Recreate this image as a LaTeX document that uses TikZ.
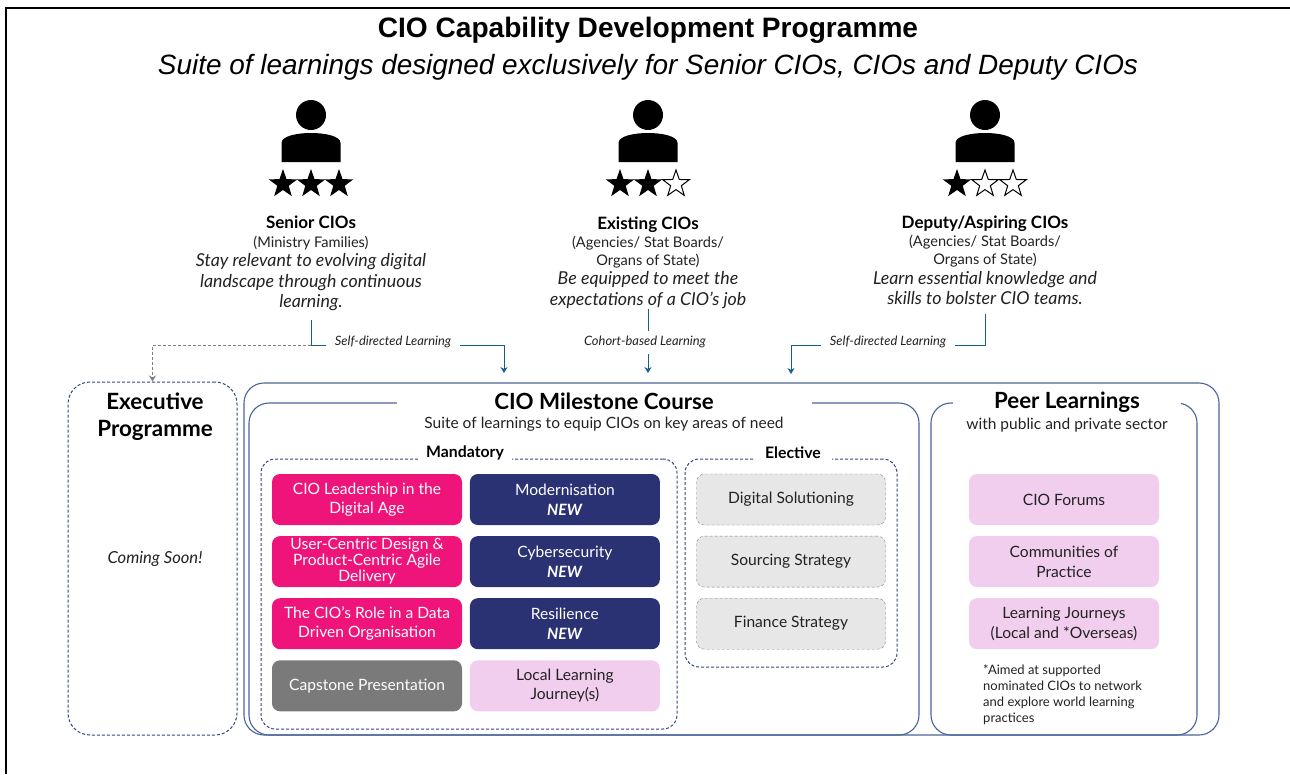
\documentclass[tikz,border=0pt]{standalone}
\usepackage{fontspec}
\setmainfont{Lato}
\newfontfamily\headfont{Liberation Sans}
\usetikzlibrary{positioning,shapes.geometric,arrows.meta}
\definecolor{flowblue}{HTML}{156082}
\definecolor{framecol}{HTML}{4A659A}
\definecolor{dashcol}{HTML}{34477F}
\definecolor{pinkcard}{HTML}{EF1479}
\definecolor{navycard}{HTML}{2B3274}
\definecolor{greycard}{HTML}{7A7A7A}
\definecolor{lilac}{HTML}{F2CEEE}
\definecolor{palegrey}{HTML}{E7E7E7}
\definecolor{inkcol}{HTML}{222222}

\begin{document}
\begin{tikzpicture}[x=1pt,y=-1pt,>={Stealth[length=6pt,width=7pt]},
txt/.style={inner sep=0pt,align=center,text=inkcol},
bodyfont/.style={font=\fontsize{15.6}{19.5}\selectfont},
who/.style={txt,font=\fontsize{17}{18}\selectfont\bfseries,text=black},
org/.style={txt,font=\fontsize{14.6}{18}\selectfont},
goal/.style={txt,font=\fontsize{17.8}{20.5}\selectfont\itshape},
lab/.style={txt,anchor=base,inner xsep=9pt,text height=14pt,text depth=14pt,font=\fontsize{12.9}{12}\selectfont\itshape},
flow/.style={color=flowblue,line width=0.9pt},
exflow/.style={color=gray,line width=0.8pt,dash pattern=on 3pt off 2pt},
frame/.style={draw=framecol,line width=1.1pt,rounded corners=20pt,inner sep=0pt},
dashframe/.style={draw=dashcol,line width=1pt,dash pattern=on 3pt off 2pt,rounded corners=14pt,inner sep=0pt},
gaptitle/.style={fill=white,inner sep=0pt,minimum height=30pt,align=center,font=\fontsize{22.3}{27}\selectfont\bfseries},
subtitle/.style={txt,font=\fontsize{15.5}{18}\selectfont},
gaplabel/.style={fill=white,inner sep=0pt,minimum height=14pt,font=\fontsize{15.8}{16}\selectfont\bfseries},
card/.style={rounded corners=8pt,minimum width=190pt,minimum height=51pt,inner sep=0pt,align=center,bodyfont},
pinkbox/.style={card,fill=pinkcard,text=white},
navybox/.style={card,fill=navycard,text=white},
greybox/.style={card,fill=greycard,text=white},
lilacbox/.style={card,fill=lilac,text=inkcol},
electbox/.style={card,minimum width=189pt,fill=palegrey,draw=gray,dash pattern=on 3pt off 2pt,text=inkcol},
fullstar/.style={star,star points=5,star point ratio=2.5,minimum size=30pt,inner sep=0pt,fill=black},
openstar/.style={star,star points=5,star point ratio=2.5,minimum size=28pt,inner sep=0pt,draw=black,line width=1pt},
person/.pic={
\fill (0,0) circle (15pt);
\fill (-29.5,47) -- (-29.5,28) .. controls (-29.5,21) and (-14,18) .. (0,18) .. controls (14,18) and (29.5,21) .. (29.5,28) -- (29.5,47) -- cycle;
}]
\useasboundingbox (0,0) rectangle (1290,774);
\fill[white] (0,0) rectangle (1290,774);
\draw[line width=2pt] (6,774) -- (6,8) -- (1290,8);

\node[txt,text=black,font=\headfont\fontsize{28.1}{30}\selectfont\bfseries] (title) at (648,30.5) {CIO Capability Development Programme};
\node[txt,text=black,font=\headfont\fontsize{27.9}{30}\selectfont\itshape] (subhead) at (648,67) {Suite of learnings designed exclusively for Senior CIOs, CIOs and Deputy CIOs};

\pic at (311,115) {person};
\pic at (648,115) {person};
\pic at (985,115) {person};
\node[fullstar] (s_1) at (283,184) {};
\node[fullstar] (s_2) at (311,184) {};
\node[fullstar] (s_3) at (339,184) {};
\node[fullstar] (e_1) at (620,184) {};
\node[fullstar] (e_2) at (648,184) {};
\node[openstar] (e_3) at (676,184) {};
\node[fullstar] (d_1) at (957,184) {};
\node[openstar] (d_2) at (985,184) {};
\node[openstar] (d_3) at (1013,184) {};

\node[who] (s_who) at (311,222) {Senior CIOs};
\node[org] (s_org) at (311,243) {(Ministry Families)};
\node[goal] (s_goal) at (311,282.5) {Stay relevant to evolving digital\\landscape through continuous\\learning.};
\node[who] (e_who) at (648,225) {Existing CIOs};
\node[org] (e_org) at (648,252) {(Agencies/ Stat Boards/\\Organs of State)};
\node[goal] (e_goal) at (648,290) {Be equipped to meet the\\expectations of a CIO’s job};
\node[who] (d_who) at (985,224) {Deputy/Aspiring CIOs};
\node[org] (d_org) at (985,251) {(Agencies/ Stat Boards/\\Organs of State)};
\node[goal] (d_goal) at (985,288) {Learn essential knowledge and\\skills to bolster CIO teams.};

\coordinate[below=9pt of s_goal] (s_out);
\coordinate[below=0pt of e_goal] (e_out);
\coordinate[below=9pt of d_goal] (d_out);
\coordinate (s_in) at (504,373);
\coordinate (e_in) at (648,373);
\coordinate (d_in) at (791,374);

\node[lab] (s_lab) at (393,345) {Self-directed Learning};
\node[lab,text depth=9pt] (e_lab) at (645,345) {Cohort-based Learning};
\node[lab] (d_lab) at (888,345) {Self-directed Learning};

\node[frame,minimum width=975pt,minimum height=352pt] (outer) at (731.5,559) {};
\node[frame,minimum width=670pt,minimum height=332pt] (course) at (584,569) {};
\node[frame,minimum width=266pt,minimum height=332pt] (peer) at (1064,569) {};
\node[dashframe,rounded corners=22pt,minimum width=169pt,minimum height=353pt] (exec) at (152.5,558.5) {};
\node[dashframe,minimum width=416pt,minimum height=270pt] (mand) at (469,594) {};
\node[dashframe,minimum width=212pt,minimum height=208pt] (elect) at (791,563) {};

\draw[flow] (s_out) |- (s_lab.west);
\draw[flow,->] (s_lab.east) -| (s_in);
\draw[exflow,->] (s_out |- s_lab.west) -| (exec.north);
\draw[flow] (e_out) -- (e_out |- e_lab.north);
\draw[flow,->] (e_out |- e_lab.south) -- (e_in);
\draw[flow] (d_out) |- (d_lab.east);
\draw[flow,->] (d_lab.west) -| (d_in);

\node[gaptitle,minimum width=415pt] (c_title) at (604,401) {CIO Milestone Course};
\node[subtitle] (c_sub) at (604,424.5) {Suite of learnings to equip CIOs on key areas of need};
\node[gaptitle,minimum width=228pt] (p_title) at (1067,402) {Peer Learnings};
\node[subtitle] (p_sub) at (1067,425.5) {with public and private sector};
\node[txt,text=black,font=\fontsize{22.4}{27}\selectfont\bfseries] (x_title) at (155,417) {Executive\\Programme};
\node[txt,font=\fontsize{16.6}{18}\selectfont\itshape] (x_soon) at (155,559) {Coming Soon!};
\node[gaplabel,minimum width=94pt] (m_label) at (465,453) {Mandatory};
\node[gaplabel,minimum width=77pt] (e_label) at (793,453) {Elective};

\node[pinkbox] (m_1) at (367,499.5) {CIO Leadership in the\\Digital Age};
\node[pinkbox,font=\fontsize{15.6}{16}\selectfont,below=10.7pt of m_1] (m_2) {User-Centric Design \&\\Product-Centric Agile\\Delivery};
\node[pinkbox,below=10.7pt of m_2] (m_3) {The CIO’s Role in a Data\\Driven Organisation};
\node[greybox,below=10.7pt of m_3] (m_4) {Capstone Presentation};
\node[navybox,right=7.5pt of m_1] (n_1) {Modernisation\\\textbf{\textit{NEW}}};
\node[navybox,below=10.7pt of n_1] (n_2) {Cybersecurity\\\textbf{\textit{NEW}}};
\node[navybox,below=10.7pt of n_2] (n_3) {Resilience\\\textbf{\textit{NEW}}};
\node[lilacbox,below=10.7pt of n_3] (n_4) {Local Learning\\Journey(s)};

\node[electbox] (e_a) at (791,499.5) {Digital Solutioning};
\node[electbox,below=10.7pt of e_a] (e_b) {Sourcing Strategy};
\node[electbox,below=10.7pt of e_b] (e_c) {Finance Strategy};

\node[lilacbox] (p_a) at (1064,499.5) {CIO Forums};
\node[lilacbox,below=10.7pt of p_a] (p_b) {Communities of\\Practice};
\node[lilacbox,below=10.7pt of p_b] (p_c) {Learning Journeys\\(Local and *Overseas)};
\node[txt,anchor=north west,align=left,font=\fontsize{13}{16}\selectfont] (p_note) at (983,664) {*Aimed at supported\\nominated CIOs to network\\and explore world learning\\practices};
\end{tikzpicture}
\end{document}
